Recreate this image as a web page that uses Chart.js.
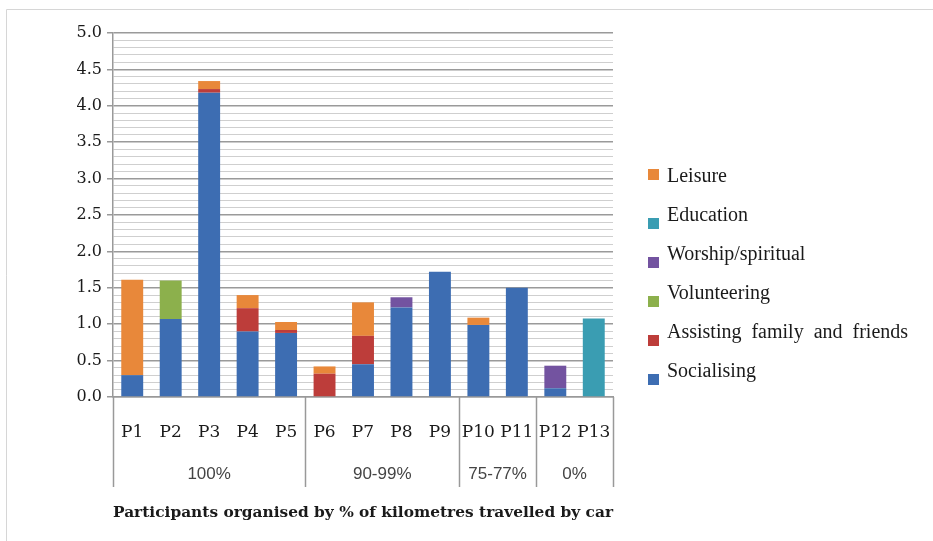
<!DOCTYPE html>
<html>
<head>
<meta charset="utf-8">
<script src="https://cdn.jsdelivr.net/npm/chart.js@4.4.0/dist/chart.umd.min.js"></script>
<style>
  body { margin: 0; background: #fff; }
  #wrap { width: 933px; height: 541px; }
</style>
</head>
<body>
<div id="wrap"><canvas id="chart" width="933" height="541"></canvas></div>
<script>
// categories and groups
var participants = ["P1","P2","P3","P4","P5","P6","P7","P8","P9","P10","P11","P12","P13"];
var groupLabels = ["100%", "90-99%", "75-77%", "0%"];
var groupSizes = [5, 4, 2, 2];

// values (stacked, bottom to top)
var socialising  = [0.30, 1.07, 4.18, 0.90, 0.88, 0,    0.45, 1.23, 1.72, 0.99, 1.50, 0.12, 0];
var assisting    = [0,    0,    0.05, 0.32, 0.04, 0.32, 0.39, 0,    0,    0,    0,    0,    0];
var volunteering = [0,    0.53, 0,    0,    0,    0,    0,    0,    0,    0,    0,    0,    0];
var worship      = [0,    0,    0,    0,    0,    0,    0,    0.14, 0,    0,    0,    0.31, 0];
var education    = [0,    0,    0,    0,    0,    0,    0,    0,    0,    0,    0,    0,    1.08];
var leisure      = [1.31, 0,    0.11, 0.18, 0.11, 0.10, 0.46, 0,    0,    0.10, 0,    0,    0];

var yTicks = ["0.0","0.5","1.0","1.5","2.0","2.5","3.0","3.5","4.0","4.5","5.0"];

var serif = "'DejaVu Serif', 'Liberation Serif', serif";

function ds(label, data, color) {
  return { label: label, data: data, backgroundColor: color, borderWidth: 0,
           barPercentage: 0.6, categoryPercentage: 0.95 };
}

var frame = {
  id: "frame",
  beforeDraw: function(chart) {
    var c = chart.ctx;
    c.save();
    c.fillStyle = "#fff";
    c.fillRect(0, 0, chart.width, chart.height);
    c.strokeStyle = "#d6d6d6";
    c.lineWidth = 1;
    c.beginPath();
    c.moveTo(6.5, chart.height);
    c.lineTo(6.5, 9.5);
    c.lineTo(chart.width, 9.5);
    c.stroke();
    c.restore();
  }
};

var groups = {
  id: "groups",
  afterDraw: function(chart) {
    var c = chart.ctx;
    var x = chart.scales.x;
    var area = chart.chartArea;
    var bottom = area.bottom + 90;
    c.save();
    c.strokeStyle = "#999";
    c.lineWidth = 1.5;
    var start = 0;
    var edges = [area.left];
    for (var g = 0; g < groupSizes.length; g++) {
      var end = start + groupSizes[g] - 1;
      var right = end < participants.length - 1
        ? (x.getPixelForValue(end) + x.getPixelForValue(end + 1)) / 2
        : area.right;
      edges.push(right);
      var mid = (x.getPixelForValue(start) + x.getPixelForValue(end)) / 2;
      c.fillStyle = "#444";
      c.font = "17px 'Liberation Sans', sans-serif";
      c.textAlign = "center";
      c.textBaseline = "middle";
      c.fillText(groupLabels[g], mid, area.bottom + 77);
      start = end + 1;
    }
    for (var i = 0; i < edges.length; i++) {
      var ex = Math.round(edges[i]) + 0.5;
      c.beginPath();
      c.moveTo(ex, area.bottom);
      c.lineTo(ex, bottom);
      c.stroke();
    }
    c.restore();
  }
};

var legendBox = {
  id: "legendBox",
  afterDraw: function(chart) {
    var c = chart.ctx;
    var items = chart.data.datasets.slice().reverse();
    c.save();
    c.font = "20px 'Liberation Serif', serif";
    c.textAlign = "left";
    c.textBaseline = "middle";
    for (var i = 0; i < items.length; i++) {
      var y = 177 + i * 39;
      c.fillStyle = items[i].backgroundColor;
      c.fillRect(648, y - (i === 0 ? 8 : -2), 11, 11);
      c.fillStyle = "#1a1a1a";
      c.fillText(items[i].label, 667, y);
    }
    c.restore();
  }
};

new Chart(document.getElementById("chart"), {
  type: "bar",
  data: {
    labels: participants,
    datasets: [
      ds("Socialising", socialising, "#3d6db2"),
      ds("Assisting  family  and  friends", assisting, "#bd3d3a"),
      ds("Volunteering", volunteering, "#8cb04c"),
      ds("Worship/spiritual", worship, "#7353a0"),
      ds("Education", education, "#3a9db2"),
      ds("Leisure", leisure, "#e8883a")
    ]
  },
  options: {
    responsive: false,
    animation: false,
    layout: { padding: { top: 33, right: 320, left: 0, bottom: 0 } },
    plugins: {
      legend: { display: false },
      tooltip: { enabled: false }
    },
    scales: {
      x: {
        stacked: true,
        grid: { display: false },
        border: { display: true, color: "#999", width: 1.5 },
        ticks: { color: "#1a1a1a", font: { family: serif, size: 17 }, padding: 17, maxRotation: 0, autoSkip: false },
        title: {
          display: true,
          text: "Participants organised by % of kilometres travelled by car",
          color: "#1a1a1a",
          font: { family: serif, size: 15.5, weight: "bold" },
          padding: { top: 19, bottom: 19 }
        },
        afterFit: function(s) { s.height = 144; }
      },
      y: {
        stacked: true,
        min: 0,
        max: 5,
        border: { display: true, color: "#999", width: 1.5 },
        grid: {
          color: function(ctx) { return ctx.index % 5 === 0 ? "#9a9a9a" : "#cfcfcf"; },
          lineWidth: function(ctx) { return ctx.index % 5 === 0 ? 1.5 : 1; },
          tickColor: function(ctx) { return ctx.index % 5 === 0 ? "#999" : "rgba(0,0,0,0)"; },
          tickLength: 6
        },
        ticks: {
          stepSize: 0.1,
          autoSkip: false,
          padding: 5,
          color: "#1a1a1a",
          font: { family: serif, size: 16 },
          callback: function(v, i) { return i % 5 === 0 ? yTicks[i / 5] : ""; }
        },
        afterFit: function(s) { s.width = 113; }
      }
    }
  },
  plugins: [frame, groups, legendBox]
});
</script>
</body>
</html>
